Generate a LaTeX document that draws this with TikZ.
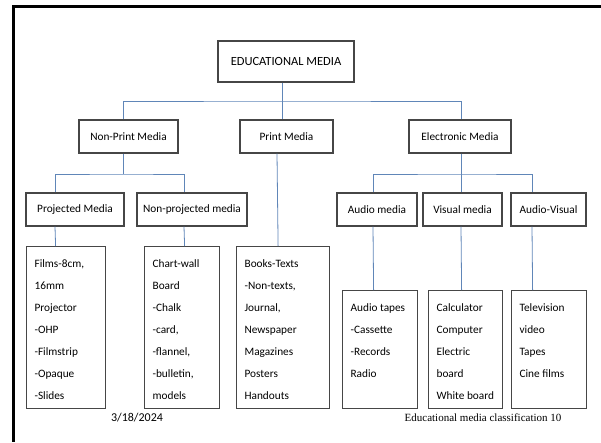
\documentclass[tikz,border=0pt]{standalone}
\usepackage{fontspec}
\setmainfont{Carlito}
\newfontfamily\captionserif{Liberation Serif}
\usepackage{tikz}
\usetikzlibrary{positioning, calc}
\usepackage{xcolor}
\definecolor{linkblue}{RGB}{96,134,184}
\definecolor{boxgray}{RGB}{70,70,70}

% leaf list: width, height, lines
\newcommand{\leaflist}[3]{\parbox[t][#2][t]{#1}{\baselineskip=22pt\leftskip=8pt\rule{0pt}{21pt}\ignorespaces#3\par}}

\begin{document}
\begin{tikzpicture}[x=1pt, y=-1pt,
    box/.style={draw=boxgray, line width=1.2pt, inner sep=0pt, minimum height=33pt,
      font=\fontsize{11.3}{13.5}\selectfont},
    leaf/.style={draw=boxgray, line width=1.2pt, inner sep=0pt, anchor=north west,
      font=\fontsize{11.3}{13.5}\selectfont},
    conn/.style={linkblue, line width=0.8pt}]
  \useasboundingbox (0,0) rectangle (601,442);
  % slide frame
  \draw[line width=3pt] (601,6.5) -- (13.5,6.5) -- (13.5,442);
  % top levels
  \node[box, minimum width=136pt, minimum height=41pt, font=\fontsize{12.5}{14}\selectfont] (edu) at (286,61.5) {EDUCATIONAL MEDIA};
  \node[box, minimum width=99pt] (nonprint) at (128.5,136.5) {Non-Print Media};
  \node[box, minimum width=93pt] (print) at (286.5,136.5) {Print Media};
  \node[box, minimum width=102pt] (elec) at (460,136.5) {Electronic Media};
  % second level
  \node[box, minimum width=98pt] (proj) at (75,209.5) {Projected Media};
  \node[box, minimum width=110pt] (nonproj) at (192,209.5) {Non-projected media};
  \node[box, minimum width=80pt] (audio) at (377,209.5) {Audio media};
  \node[box, minimum width=79pt] (visual) at (462.5,209.5) {Visual media};
  \node[box, minimum width=75pt] (audvis) at (548.5,209.5) {Audio-Visual};
  % leaves
  \node[leaf] (films) at (26,246) {\leaflist{79pt}{162pt}{Films-8cm,\\16mm\\Projector\\-OHP\\-Filmstrip\\-Opaque\\-Slides}};
  \node[leaf] (chart) at (144,246) {\leaflist{75pt}{162pt}{Chart-wall\\Board\\-Chalk\\-card,\\-flannel,\\-bulletin,\\models}};
  \node[leaf] (books) at (236,246) {\leaflist{93pt}{162pt}{Books-Texts\\-Non-texts,\\Journal,\\Newspaper\\Magazines\\Posters\\Handouts}};
  \node[leaf] (tapes) at (342,290) {\leaflist{75pt}{118pt}{Audio tapes\\-Cassette\\-Records\\Radio}};
  \node[leaf] (calc) at (428,290) {\leaflist{74pt}{118pt}{Calculator\\Computer\\Electric\\board\\White board}};
  \node[leaf] (tv) at (511,290) {\leaflist{75pt}{118pt}{Television\\video\\Tapes\\Cine films}};
  % bus points
  \coordinate (bustop) at (282,101);
  \coordinate (busleft) at (123,174);
  \coordinate (busright) at (461,174);
  % connectors
  \draw[conn] ([xshift=-4pt]edu.south) -- ([xshift=-4.5pt]print.north);
  \draw[conn] ([xshift=-5.5pt]nonprint.north) |- (bustop) -| ([xshift=1pt]elec.north);
  \draw[conn] ([xshift=-5.5pt]nonprint.south) -- (busleft);
  \draw[conn] ([xshift=-20pt]proj.north) |- (busleft) -| ([xshift=-8pt]nonproj.north);
  \draw[conn] ([xshift=1pt]elec.south) -- (busright);
  \draw[conn] ([xshift=-4pt]audio.north) |- (busright) -| ([xshift=-16.5pt]audvis.north);
  \draw[conn] (busright) -- ([xshift=-1.5pt]visual.north);
  \draw[conn] ([xshift=-9.5pt]print.south) -- ([xshift=-5pt]books.north);
  \draw[conn] ([xshift=-20pt]proj.south) -- ([xshift=-10.5pt]films.north);
  \draw[conn] ([xshift=-8pt]nonproj.south) -- ([xshift=2.5pt]chart.north);
  \draw[conn] ([xshift=-4pt]audio.south) -- ([xshift=-6.5pt]tapes.north);
  \draw[conn] ([xshift=-1.5pt]visual.south) -- ([xshift=-4pt]calc.north);
  \draw[conn] ([xshift=-16.5pt]audvis.south) -- ([xshift=-16.5pt]tv.north);
  % footer
  \node[font=\fontsize{12}{14}\selectfont] (date) at (137,418) {3/18/2024};
  \node[font=\captionserif\fontsize{11}{13}\selectfont] (caption) at (483,418) {Educational media classification 10};
\end{tikzpicture}
\end{document}
